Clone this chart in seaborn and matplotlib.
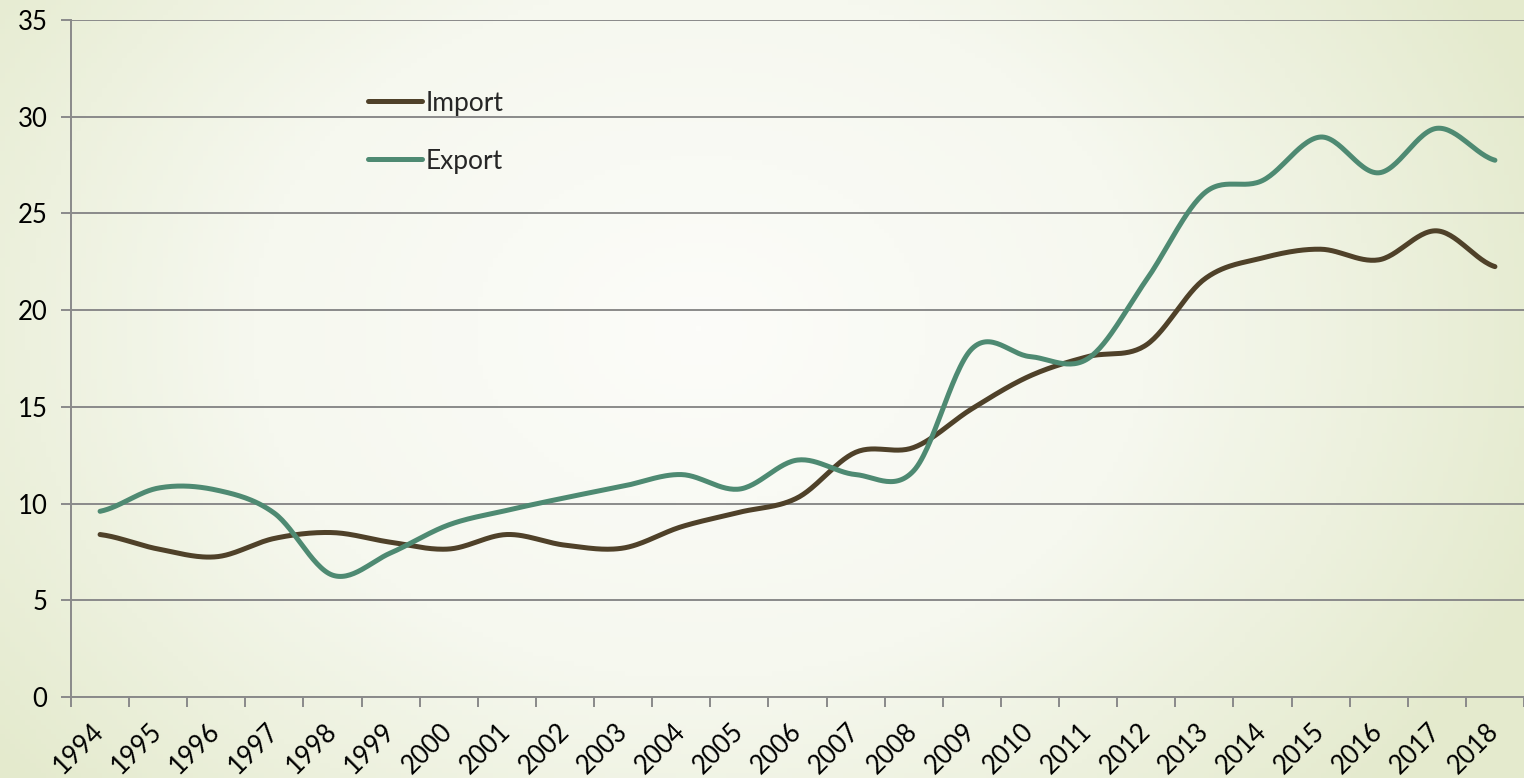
import numpy as np
import pandas as pd
import seaborn as sns
import matplotlib.pyplot as plt
from matplotlib.colors import LinearSegmentedColormap
from matplotlib.lines import Line2D

# Datos
anios = [str(a) for a in range(1994, 2019)]
importaciones = [8.4, 7.65, 7.25, 8.2, 8.5, 8.0, 7.65, 8.4, 7.85, 7.7, 8.8, 9.55,
                 10.3, 12.65, 12.9, 14.9, 16.6, 17.6, 18.2, 21.6, 22.7, 23.15,
                 22.6, 24.1, 22.25]
exportaciones = [9.6, 10.8, 10.7, 9.5, 6.3, 7.45, 8.9, 9.65, 10.3, 10.9, 11.5,
                 10.75, 12.25, 11.5, 11.7, 18.0, 17.6, 17.5, 21.55, 26.05,
                 26.7, 28.95, 27.1, 29.4, 27.75]

color_imp = '#4f4129'
color_exp = '#4e8a72'


def suavizar(y, n=30):
    # curva suave tipo Catmull-Rom (como la linea suavizada de Excel)
    y = np.asarray(y, dtype=float)
    p = np.concatenate([[y[0]], y, [y[-1]]])
    xs, ys = [], []
    for i in range(len(y) - 1):
        p0, p1, p2, p3 = p[i], p[i + 1], p[i + 2], p[i + 3]
        t = np.linspace(0, 1, n, endpoint=False)
        v = 0.5 * ((2 * p1) + (-p0 + p2) * t + (2 * p0 - 5 * p1 + 4 * p2 - p3) * t ** 2
                   + (-p0 + 3 * p1 - 3 * p2 + p3) * t ** 3)
        xs.extend(i + t)
        ys.extend(v)
    xs.append(len(y) - 1)
    ys.append(y[-1])
    return np.array(xs), np.array(ys)


x_imp, y_imp = suavizar(importaciones)
x_exp, y_exp = suavizar(exportaciones)
df = pd.concat([
    pd.DataFrame({'x': x_imp, 'valor': y_imp, 'serie': 'Import'}),
    pd.DataFrame({'x': x_exp, 'valor': y_exp, 'serie': 'Export'}),
])

sns.set_style('white')
plt.rcParams['font.family'] = ['Lato', 'DejaVu Sans']

fig = plt.figure(figsize=(15.24, 7.78), dpi=100)

# Fondo con degradado radial
fondo = fig.add_axes([0, 0, 1, 1], zorder=-10)
gx, gy = np.meshgrid(np.linspace(0, 1524, 300), np.linspace(0, 778, 160))
r = np.sqrt(((gx - 700) / 900) ** 2 + ((gy - 330) / 700) ** 2)
r = np.clip(r, 0, 1)
cmap_fondo = LinearSegmentedColormap.from_list('fondo', ['#fcfcf9', '#f6f8ef', '#e4eacd'])
fondo.imshow(r, cmap=cmap_fondo, aspect='auto', extent=[0, 1524, 778, 0], vmin=0, vmax=1)
fondo.axis('off')

ax = fig.add_axes([71 / 1524, 1 - 697 / 778, 1 - 71 / 1524, (697 - 20) / 778])
ax.set_facecolor('none')

sns.lineplot(data=df, x='x', y='valor', hue='serie',
             palette={'Import': color_imp, 'Export': color_exp},
             linewidth=3.6, ax=ax, legend=False, zorder=3,
             solid_capstyle='round', sort=False, estimator=None)

ax.set_xlim(-0.5, len(anios) - 0.5)
ax.set_ylim(0, 35)
ax.set_yticks(range(0, 36, 5))
ax.set_xticks(range(len(anios)))
ax.set_xticklabels(anios, rotation=45, ha='right', va='center', rotation_mode='anchor')
ax.set_xticks(np.arange(-0.5, len(anios), 1), minor=True)
ax.set_xlabel('')
ax.set_ylabel('')

ax.grid(axis='y', color='#8a8a8a', linewidth=1.4, zorder=1)
ax.grid(axis='x', visible=False)
for lado in ['top', 'right']:
    ax.spines[lado].set_visible(False)
for lado in ['left', 'bottom']:
    ax.spines[lado].set_color('#8a8a8a')
    ax.spines[lado].set_linewidth(1.4)

ax.tick_params(axis='y', length=7, width=1.4, color='#8a8a8a', pad=10,
               labelsize=18.5, labelcolor='black', left=True)
ax.tick_params(axis='x', which='major', length=0, pad=22, labelsize=18.5, labelcolor='black')
ax.tick_params(axis='x', which='minor', length=7, width=1.4, color='#8a8a8a', bottom=True)

# Leyenda
handles = [Line2D([0], [0], color=color_imp, lw=3.6, solid_capstyle='round'),
           Line2D([0], [0], color=color_exp, lw=3.6, solid_capstyle='round')]
ax.legend(handles, ['Import', 'Export'], loc='upper left',
          bbox_to_anchor=((357 - 71) / 1453, (697 - 80) / 677),
          frameon=False, fontsize=19, handlelength=2.05, handletextpad=0.15,
          labelspacing=1.25, borderaxespad=0)

fig.savefig('out.png', dpi=100)
